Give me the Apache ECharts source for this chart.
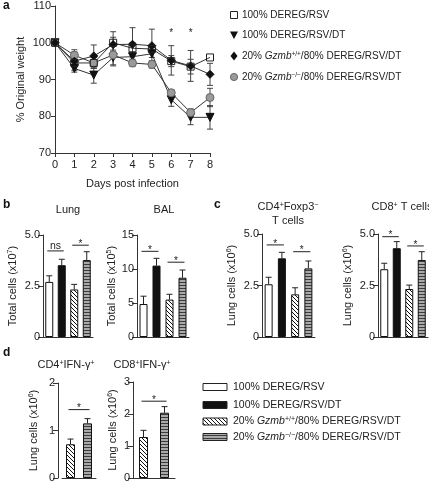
<!DOCTYPE html>
<html><head><meta charset="utf-8">
<script src="https://cdn.jsdelivr.net/npm/echarts@6/dist/echarts.min.js"></script>
<style>html,body{margin:0;padding:0;background:#fff}#c{width:429px;height:485px}</style>
</head><body><div id="c"></div>
<script>
// ---------------- DATA ----------------
const days = [0,1,2,3,4,5,6,7,8];
const groupIds = ['RSV','RSV/DT','Gzmb+/+','Gzmb-/-'];
// panel a: % original weight (mean, sem)
const weightRSV      = [100,94.5,94.5,100,98.5,98.3,95.0,93.5,96.0];
const weightRSVErr   = [0,1.0,1.5,3.0,1.5,1.0,1.5,2.0,0];
const weightDT       = [100,93.0,91.2,96.0,96.2,97.0,84.5,79.7,79.7];
const weightDTErr    = [0,1.0,2.2,2.0,1.0,1.0,1.8,2.0,3.2];
const weightWT       = [100,95.0,96.4,99.5,99.6,99.2,95.2,93.7,91.4];
const weightWTErr    = [0,2.5,3.0,2.0,4.5,4.5,4.0,4.2,3.0];
const weightKO       = [100,96.6,94.5,96.7,94.5,94.1,86.4,81.0,85.1];
const weightKOErr    = [0,1.5,1.5,3.0,1.0,1.0,0.8,1.0,2.5];
const weightStarDays = [6,7];
const weightStarLevel = [102.4,102.4];
// panel b/c/d: bar values and sem
const lungVals = [2.70,3.52,2.33,3.77];  const lungErr = [0.30,0.29,0.25,0.41];
const balVals  = [4.85,10.5,5.50,8.72];  const balErr  = [1.15,1.07,0.78,1.13];
const cd4Vals  = [2.56,3.82,2.07,3.33];  const cd4Err  = [0.34,0.29,0.32,0.36];
const cd8Vals  = [3.29,4.31,2.33,3.74];  const cd8Err  = [0.29,0.32,0.19,0.40];
const cd4IfnVals = [0.71,1.15];          const cd4IfnErr = [0.11,0.10];
const cd8IfnVals = [1.28,2.04];          const cd8IfnErr = [0.21,0.19];
// significance: [fromGroup, toGroup, level, mark]
const lungSig = [[0,1,4.22,'ns'],[2,3,4.50,'*']];
const balSig  = [[0,1,12.6,'*'],[2,3,11.0,'*']];
const cd4Sig  = [[0,1,4.47,'*'],[2,3,4.14,'*']];
const cd8Sig  = [[0,1,4.87,'*'],[2,3,4.42,'*']];
const cd4IfnSig = [[0,1,1.44,'*']];
const cd8IfnSig = [[0,1,2.40,'*']];
const legendLabels = ['100% DEREG/RSV','100% DEREG/RSV/DT','20% {i|Gzmb}{s|+/+}/80% DEREG/RSV/DT','20% {i|Gzmb}{s|−/−}/80% DEREG/RSV/DT'];

// ---------------- STYLE ----------------
const FF = '"Liberation Sans", Arial, Helvetica, sans-serif';
const AX = '#333';
function mkHatch(){
  const c=document.createElement('canvas'); c.width=4; c.height=4;
  const g=c.getContext('2d'); g.fillStyle='#fff'; g.fillRect(0,0,4,4);
  g.strokeStyle='#111'; g.lineWidth=1;
  g.beginPath(); g.moveTo(-1,-1); g.lineTo(5,5); g.moveTo(-1,3); g.lineTo(1,5); g.moveTo(3,-1); g.lineTo(5,1); g.stroke();
  return c;
}
function mkStripe(){
  const c=document.createElement('canvas'); c.width=4; c.height=3;
  const g=c.getContext('2d'); g.fillStyle='#a9a9a9'; g.fillRect(0,0,4,3);
  g.fillStyle='#3c3c3c'; g.fillRect(0,0,4,1);
  return c;
}
const fills = ['#ffffff','#111111',{image:mkHatch(),repeat:'repeat'},{image:mkStripe(),repeat:'repeat'}];
const rich = {
  i:{fontStyle:'italic',fontSize:10,fontFamily:FF,color:'#222'},
  s:{fontSize:6.5,fontFamily:FF,color:'#222',verticalAlign:'top'}
};
const richT = {
  s:{fontSize:7,fontFamily:FF,color:'#222',verticalAlign:'top'}
};

const grids=[], xAxes=[], yAxes=[], series=[], graphics=[];

// ---------------- PANEL A ----------------
grids.push({left:55,top:6,width:155,height:147});
xAxes.push({gridIndex:0,type:'value',min:0,max:8,interval:1,
  name:'Days post infection',nameLocation:'middle',nameGap:25,
  nameTextStyle:{fontFamily:FF,fontSize:11,color:'#222'},
  axisLine:{lineStyle:{color:AX}},axisTick:{length:4,lineStyle:{color:AX}},
  axisLabel:{fontFamily:FF,fontSize:11,color:'#222',margin:6},splitLine:{show:false}});
yAxes.push({gridIndex:0,type:'value',min:70,max:110,interval:10,
  name:'% Original weight',nameLocation:'middle',nameGap:29,nameRotate:90,
  nameTextStyle:{fontFamily:FF,fontSize:11,color:'#222'},
  axisLine:{show:true,lineStyle:{color:AX}},axisTick:{show:true,length:4,lineStyle:{color:AX}},
  axisLabel:{fontFamily:FF,fontSize:11,color:'#222',margin:4},splitLine:{show:false}});
const lineSets = [
  {vals:weightDT,err:weightDTErr,symbol:'triangle',rot:180,size:8,fill:'#111',stroke:'#111'},
  {vals:weightKO,err:weightKOErr,symbol:'circle',rot:0,size:8,fill:'#9a9a9a',stroke:'#666'},
  {vals:weightWT,err:weightWTErr,symbol:'diamond',rot:0,size:8,fill:'#111',stroke:'#111'},
  {vals:weightRSV,err:weightRSVErr,symbol:'rect',rot:0,size:7,fill:'rgba(255,255,255,0)',stroke:'#222'}
];
lineSets.forEach(ls=>{
  series.push({type:'custom',xAxisIndex:0,yAxisIndex:0,z:1,
    data:days.map((d,i)=>[d,ls.vals[i],ls.err[i]]),
    renderItem:(p,api)=>{
      const x=api.value(0),v=api.value(1),e=api.value(2);
      if(!e) return {type:'group',children:[]};
      const a=api.coord([x,v+e]),b=api.coord([x,v-e]);
      const st={stroke:'#444',lineWidth:1};
      return {type:'group',children:[
        {type:'line',shape:{x1:a[0],y1:a[1],x2:b[0],y2:b[1]},style:st},
        {type:'line',shape:{x1:a[0]-3,y1:a[1],x2:a[0]+3,y2:a[1]},style:st},
        {type:'line',shape:{x1:b[0]-3,y1:b[1],x2:b[0]+3,y2:b[1]},style:st}]};
    }});
});
lineSets.forEach(ls=>{
  series.push({type:'line',xAxisIndex:0,yAxisIndex:0,z:3,
    data:days.map((d,i)=>[d,ls.vals[i]]),
    symbol:ls.symbol,symbolRotate:ls.rot,symbolSize:ls.size,showAllSymbol:true,
    lineStyle:{color:'#333',width:1},
    itemStyle:{color:ls.fill,borderColor:ls.stroke,borderWidth:1}});
});
series.push({type:'custom',xAxisIndex:0,yAxisIndex:0,
  data:weightStarDays.map((d,i)=>[d,weightStarLevel[i]]),
  renderItem:(p,api)=>{const c=api.coord([api.value(0),api.value(1)]);
    return {type:'text',style:{text:'*',x:c[0],y:c[1]+4,textAlign:'center',textVerticalAlign:'bottom',font:'10px '+FF,fill:'#222'}};}});

// ---------------- BAR PANELS ----------------
const barPanels = [
  {grid:{left:43,top:235,width:50,height:102},vals:lungVals,err:lungErr,sig:lungSig,groups:[0,1,2,3],max:5,interval:2.5,
   fmt:v=>v===0?'0':v.toFixed(1),name:'Total cells (x10{s|7})',gap:25,bw:8,offset:0},
  {grid:{left:137,top:235,width:52,height:102},vals:balVals,err:balErr,sig:balSig,groups:[0,1,2,3],max:15,interval:5,
   fmt:v=>String(v),name:'Total cells (x10{s|5})',gap:20,bw:8,offset:0},
  {grid:{left:262,top:234,width:53,height:103},vals:cd4Vals,err:cd4Err,sig:cd4Sig,groups:[0,1,2,3],max:5,interval:2.5,
   fmt:v=>v===0?'0':v.toFixed(1),name:'Lung cells (x10{s|6})',gap:25,bw:8,offset:0},
  {grid:{left:378,top:234,width:50,height:103},vals:cd8Vals,err:cd8Err,sig:cd8Sig,groups:[0,1,2,3],max:5,interval:2.5,
   fmt:v=>v===0?'0':v.toFixed(1),name:'Lung cells (x10{s|6})',gap:25,bw:8,offset:0},
  {grid:{left:62,top:383,width:34,height:95},vals:cd4IfnVals,err:cd4IfnErr,sig:cd4IfnSig,groups:[2,3],max:2,interval:1,
   fmt:v=>String(v),name:'Lung cells (x10{s|6})',gap:19,bw:9,offset:4},
  {grid:{left:133,top:382,width:42,height:96},vals:cd8IfnVals,err:cd8IfnErr,sig:cd8IfnSig,groups:[2,3],max:3,interval:1,
   fmt:v=>String(v),name:'Lung cells (x10{s|6})',gap:15,bw:9,offset:0}
];
barPanels.forEach((bp,k)=>{
  const gi=k+1;
  grids.push(bp.grid);
  const cats = bp.groups.map(g=>groupIds[g]);
  xAxes.push({gridIndex:gi,type:'category',data:cats,
    axisLine:{lineStyle:{color:AX}},axisTick:{show:false},axisLabel:{show:false}});
  yAxes.push({gridIndex:gi,type:'value',min:0,max:bp.max,interval:bp.interval,offset:bp.offset,
    name:bp.name,nameLocation:'middle',nameGap:bp.gap,nameRotate:90,
    nameTextStyle:{fontFamily:FF,fontSize:11,color:'#222',rich:richT},
    axisLine:{show:true,lineStyle:{color:AX}},axisTick:{show:true,length:5,lineStyle:{color:AX}},
    axisLabel:{fontFamily:FF,fontSize:11,color:'#222',margin:3,formatter:bp.fmt},splitLine:{show:false}});
  series.push({type:'custom',xAxisIndex:gi,yAxisIndex:gi,z:1,
    data:bp.vals.map((v,i)=>[i,v,bp.err[i]]),
    renderItem:(p,api)=>{
      const i=api.value(0),v=api.value(1),e=api.value(2);
      const a=api.coord([i,v]),b=api.coord([i,v+e]);
      const st={stroke:'#222',lineWidth:1};
      return {type:'group',children:[
        {type:'line',shape:{x1:a[0],y1:a[1],x2:b[0],y2:b[1]},style:st},
        {type:'line',shape:{x1:b[0]-3,y1:b[1],x2:b[0]+3,y2:b[1]},style:st}]};
    }});
  series.push({type:'bar',xAxisIndex:gi,yAxisIndex:gi,z:2,barWidth:bp.bw,
    data:bp.vals.map((v,i)=>({value:v,itemStyle:{color:fills[bp.groups[i]],borderColor:'#111',borderWidth:1}}))});
  series.push({type:'custom',xAxisIndex:gi,yAxisIndex:gi,z:3,
    data:bp.sig.map(s=>[s[0],s[2]]),
    renderItem:(p,api)=>{
      const s=bp.sig[p.dataIndex];
      const a=api.coord([s[0],s[2]]),b=api.coord([s[1],s[2]]);
      const x1=a[0]-2,x2=b[0]+2,y=a[1];
      const isStar=s[3]==='*';
      return {type:'group',children:[
        {type:'line',shape:{x1:x1,y1:y,x2:x2,y2:y},style:{stroke:'#222',lineWidth:1}},
        {type:'text',style:{text:s[3],x:(x1+x2)/2,y:isStar?y+4:y+1,textAlign:'center',textVerticalAlign:'bottom',
          font:(isStar?'10px ':'10.5px ')+FF,fill:'#222'}}]};
    }});
});

// ---------------- TEXT / LEGENDS ----------------
function txt(x,y,t,size){
  return {type:'text',style:{text:t,x:x,y:y,font:(size||11)+'px '+FF,fill:'#222',
    textAlign:'center',textVerticalAlign:'middle',rich:richT}};
}
graphics.push({type:'text',style:{text:'a',x:3,y:0,font:'bold 12px '+FF,fill:'#111'}});
graphics.push({type:'text',style:{text:'b',x:3,y:199,font:'bold 12px '+FF,fill:'#111'}});
graphics.push({type:'text',style:{text:'c',x:214,y:199,font:'bold 12px '+FF,fill:'#111'}});
graphics.push({type:'text',style:{text:'d',x:3,y:347,font:'bold 12px '+FF,fill:'#111'}});
graphics.push(txt(68,210,'Lung'));
graphics.push(txt(164,210,'BAL'));
graphics.push(txt(288,207,'CD4{s|+}Foxp3{s|−}'));
graphics.push(txt(288,221,'T cells'));
graphics.push(txt(402,207,'CD8{s|+} T cells'));
graphics.push(txt(66,365,'CD4{s|+}IFN-γ{s|+}'));
graphics.push(txt(142,365,'CD8{s|+}IFN-γ{s|+}'));

// top legend (panel a)
const topY=[15,35,56,77];
const sx=234;
graphics.push({type:'rect',shape:{x:sx-3.5,y:topY[0]-3.5,width:7,height:7},style:{fill:'#fff',stroke:'#222',lineWidth:1}});
graphics.push({type:'polygon',shape:{points:[[sx-4,topY[1]-3.5],[sx+4,topY[1]-3.5],[sx,topY[1]+4]]},style:{fill:'#111'}});
graphics.push({type:'polygon',shape:{points:[[sx,topY[2]-4.5],[sx+3.5,topY[2]],[sx,topY[2]+4.5],[sx-3.5,topY[2]]]},style:{fill:'#111'}});
graphics.push({type:'circle',shape:{cx:sx,cy:topY[3],r:3.6},style:{fill:'#9a9a9a',stroke:'#666',lineWidth:1}});
legendLabels.forEach((l,i)=>{
  graphics.push({type:'text',style:{text:l,x:242,y:topY[i],font:'10px '+FF,fill:'#222',textAlign:'left',textVerticalAlign:'middle',rich:rich}});
});
// bottom legend
const botY=[387,405,421.5,437];
legendLabels.forEach((l,i)=>{
  graphics.push({type:'rect',shape:{x:203,y:botY[i]-3.5,width:24,height:7},style:{fill:fills[i],stroke:'#222',lineWidth:1}});
  graphics.push({type:'text',style:{text:l,x:233,y:botY[i],font:'10.5px '+FF,fill:'#222',textAlign:'left',textVerticalAlign:'middle',
    rich:{i:{fontStyle:'italic',fontSize:10.5,fontFamily:FF,color:'#222'},s:{fontSize:7,fontFamily:FF,color:'#222',verticalAlign:'top'}}}});
});

const chart = echarts.init(document.getElementById('c'),null,{renderer:'canvas',width:429,height:485});
chart.setOption({animation:false,backgroundColor:'#fff',grid:grids,xAxis:xAxes,yAxis:yAxes,series:series,graphic:{elements:graphics}});
</script></body></html>
